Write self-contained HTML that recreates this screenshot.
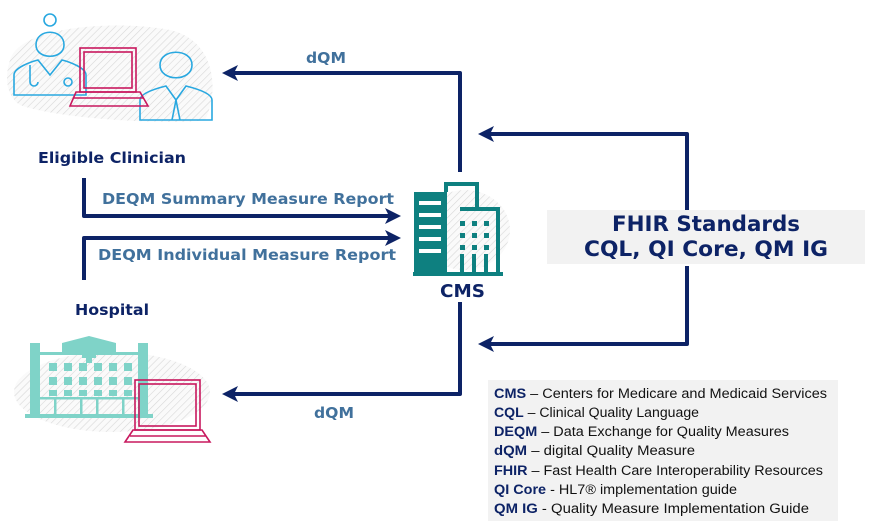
<!DOCTYPE html>
<html><head><meta charset="utf-8"><style>
html,body{margin:0;padding:0;background:#fff;}
svg{display:block;font-family:"DejaVu Sans",Verdana,sans-serif;}
</style></head><body>
<svg width="872" height="527" viewBox="0 0 872 527" xmlns="http://www.w3.org/2000/svg">
<defs>
<pattern id="h" width="5" height="5" patternUnits="userSpaceOnUse" patternTransform="rotate(45)">
<rect width="5" height="5" fill="#fafafa"/><line x1="0" y1="0" x2="0" y2="5" stroke="#d8d8d8" stroke-width="1.2"/>
</pattern>
</defs>
<!-- blobs -->
<path d="M10,60 C20,25 120,20 170,30 C215,40 220,90 205,120 C180,125 60,120 20,105 C5,95 5,75 10,60 Z" fill="url(#h)"/>
<ellipse cx="112" cy="392" rx="98" ry="40" fill="url(#h)"/>
<ellipse cx="465" cy="230" rx="45" ry="40" fill="url(#h)"/>
<!-- clinicians -->
<g fill="none" stroke="#29a8e0" stroke-width="1.6">
<circle cx="50" cy="20" r="6"/>
<path d="M36,45 C36,28 64,28 64,45 C64,60 36,60 36,45 Z"/>
<path d="M14,95 L14,75 C14,68 30,62 38,60 L50,75 L62,60 C70,62 86,68 86,75 L86,95 Z"/>
<path d="M30,65 L30,82 M30,82 a4,4 0 0 0 8,0"/><circle cx="68" cy="82" r="4"/>
<path d="M160,65 C160,48 192,48 192,65 C192,82 160,82 160,65 Z"/>
<path d="M140,120 L140,100 C140,93 158,88 166,86 L176,100 L186,86 C194,88 212,93 212,100 L212,120 Z"/>
<path d="M176,100 L172,120 M176,100 L180,120"/>
</g>
<g fill="none" stroke="#c8185e" stroke-width="1.6">
<rect x="80" y="48" width="56" height="44"/><rect x="84" y="52" width="48" height="36"/>
<path d="M76,92 L140,92 L148,106 L70,106 Z M74,98 L144,98"/>
</g>
<!-- hospital -->
<g fill="#7fd3c8">
<rect x="30" y="343" width="10" height="75"/><rect x="138" y="343" width="10" height="75"/>
<path d="M40,352 L62,352 L62,343 L89,336 L116,343 L116,352 L138,352 L138,355 L40,355 Z"/>
<rect x="86" y="349" width="6" height="14"/><rect x="82" y="353" width="14" height="5"/>
<rect x="25" y="414" width="128" height="4"/>
<rect x="40" y="397" width="98" height="2.5"/>
<rect x="54" y="397" width="2.5" height="18"/><rect x="80" y="397" width="2.5" height="18"/><rect x="96" y="397" width="2.5" height="18"/><rect x="122" y="397" width="2.5" height="18"/>
<rect x="49" y="363" width="8" height="8"/><rect x="64" y="363" width="8" height="8"/><rect x="79" y="363" width="8" height="8"/><rect x="94" y="363" width="8" height="8"/><rect x="109" y="363" width="8" height="8"/><rect x="124" y="363" width="8" height="8"/>
<rect x="49" y="377" width="8" height="8"/><rect x="64" y="377" width="8" height="8"/><rect x="79" y="377" width="8" height="8"/><rect x="94" y="377" width="8" height="8"/><rect x="109" y="377" width="8" height="8"/><rect x="124" y="377" width="8" height="8"/>
<rect x="49" y="390" width="8" height="6"/><rect x="64" y="390" width="8" height="6"/><rect x="79" y="390" width="8" height="6"/><rect x="94" y="390" width="8" height="6"/><rect x="109" y="390" width="8" height="6"/><rect x="124" y="390" width="8" height="6"/>
</g>
<g fill="none" stroke="#c8185e" stroke-width="1.6">
<rect x="135" y="380" width="65" height="50"/><rect x="139" y="384" width="57" height="42"/>
<path d="M133,430 L202,430 L210,442 L125,442 Z M130,436 L206,436"/>
</g>
<!-- CMS building -->
<g fill="#0e8080">
<rect x="414" y="192" width="33" height="80"/>
<path d="M444,182 L479,182 L479,207 L475,207 L475,186 L448,186 L448,192 L444,192 Z"/>
<path d="M460,207 L500,207 L500,272 L496,272 L496,211 L460,211 Z"/>
<rect x="413" y="272" width="90" height="4"/>
<rect x="460" y="254" width="4" height="18"/><rect x="472" y="254" width="4" height="18"/><rect x="484" y="254" width="4" height="18"/>
<rect x="460" y="221" width="5" height="5"/><rect x="472" y="221" width="5" height="5"/><rect x="484" y="221" width="5" height="5"/>
<rect x="460" y="233" width="5" height="5"/><rect x="472" y="233" width="5" height="5"/><rect x="484" y="233" width="5" height="5"/>
<rect x="460" y="245" width="5" height="5"/><rect x="472" y="245" width="5" height="5"/><rect x="484" y="245" width="5" height="5"/>
</g>
<g fill="#fff"><rect x="419" y="201" width="22" height="4"/><rect x="419" y="213" width="22" height="4"/><rect x="419" y="225" width="22" height="4"/><rect x="419" y="237" width="22" height="4"/><rect x="419" y="249" width="22" height="4"/></g>
<!-- arrows -->
<g fill="none" stroke="#0d2366" stroke-width="4" stroke-linejoin="round">
<path d="M460,172 L460,73 L232,73"/>
<path d="M460,302 L460,394 L232,394"/>
<path d="M84,178 L84,216 L390,216"/>
<path d="M84,280 L84,238 L390,238"/>
<path d="M687,210 L687,134 L488,134"/>
<path d="M687,266 L687,344 L488,344"/>
</g>
<g fill="#0d2366">
<path d="M222,73 L238,65 L234,73 L238,81 Z"/>
<path d="M222,394 L238,386 L234,394 L238,402 Z"/>
<path d="M478,134 L494,126 L490,134 L494,142 Z"/>
<path d="M478,344 L494,336 L490,344 L494,352 Z"/>
<path d="M401,216 L385,208 L389,216 L385,224 Z"/>
<path d="M401,238 L385,230 L389,238 L385,246 Z"/>
</g>
<!-- FHIR box -->
<rect x="547" y="210" width="318" height="54" fill="#f2f2f2"/>
<text x="612" y="231" font-size="21" font-weight="bold" fill="#0d2366" textLength="188" lengthAdjust="spacingAndGlyphs">FHIR Standards</text>
<text x="584" y="256" font-size="21" font-weight="bold" fill="#0d2366" textLength="244" lengthAdjust="spacingAndGlyphs">CQL, QI Core, QM IG</text>
<!-- labels -->
<g font-weight="bold" font-size="15" fill="#41719c">
<text x="306" y="63" textLength="40" lengthAdjust="spacingAndGlyphs">dQM</text>
<text x="314" y="418" textLength="40" lengthAdjust="spacingAndGlyphs">dQM</text>
<text x="102" y="204" textLength="292" lengthAdjust="spacingAndGlyphs">DEQM Summary Measure Report</text>
<text x="98" y="260" textLength="298" lengthAdjust="spacingAndGlyphs">DEQM Individual Measure Report</text>
</g>
<g font-weight="bold" font-size="15" fill="#0d2366">
<text x="38" y="163" textLength="148" lengthAdjust="spacingAndGlyphs">Eligible Clinician</text>
<text x="75" y="315" textLength="74" lengthAdjust="spacingAndGlyphs">Hospital</text>
<text x="440" y="297" font-size="18" textLength="45" lengthAdjust="spacingAndGlyphs">CMS</text>
</g>
<!-- legend -->
<rect x="488" y="380" width="350" height="141" fill="#f2f2f2"/>
<g font-size="13.5" fill="#111" font-family="Liberation Sans, sans-serif">
<text x="494" y="398" textLength="333" lengthAdjust="spacingAndGlyphs"><tspan font-weight="bold" fill="#0d2366">CMS</tspan> – Centers for Medicare and Medicaid Services</text>
<text x="494" y="417" textLength="205" lengthAdjust="spacingAndGlyphs"><tspan font-weight="bold" fill="#0d2366">CQL</tspan> – Clinical Quality Language</text>
<text x="494" y="436" textLength="295" lengthAdjust="spacingAndGlyphs"><tspan font-weight="bold" fill="#0d2366">DEQM</tspan> – Data Exchange for Quality Measures</text>
<text x="494" y="455" textLength="201" lengthAdjust="spacingAndGlyphs"><tspan font-weight="bold" fill="#0d2366">dQM</tspan> – digital Quality Measure</text>
<text x="494" y="475" textLength="329" lengthAdjust="spacingAndGlyphs"><tspan font-weight="bold" fill="#0d2366">FHIR</tspan> – Fast Health Care Interoperability Resources</text>
<text x="494" y="494" textLength="243" lengthAdjust="spacingAndGlyphs"><tspan font-weight="bold" fill="#0d2366">QI Core</tspan> - HL7® implementation guide</text>
<text x="494" y="513" textLength="315" lengthAdjust="spacingAndGlyphs"><tspan font-weight="bold" fill="#0d2366">QM IG</tspan> - Quality Measure Implementation Guide</text>
</g>
</svg>
</body></html>
